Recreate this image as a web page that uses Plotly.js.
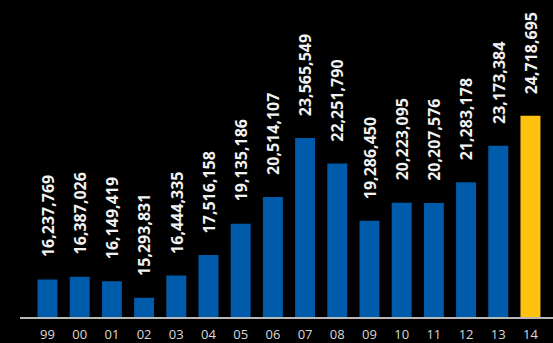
<!DOCTYPE html>
<html>
<head>
<meta charset="utf-8">
<script src="https://cdn.plot.ly/plotly-3.0.1.min.js"></script>
<style>
html,body{margin:0;padding:0;background:#000;}
#chart{width:553px;height:343px;}
</style>
</head>
<body>
<div id="chart"></div>
<script>
var years = ['99','00','01','02','03','04','05','06','07','08','09','10','11','12','13','14'];
var values = [16237769,16387026,16149419,15293831,16444335,17516158,19135186,20514107,23565549,22251790,19286450,20223095,20207576,21283178,23173384,24718695];
var highlightYear = '14';

var blue = '#005BAA';
var gold = '#FFC20E';
var colors = years.map(function(y){ return y === highlightYear ? gold : blue; });

var trace = {
  type: 'bar',
  x: years,
  y: values,
  marker: {color: colors, line: {width: 0}},
  hoverinfo: 'none'
};

var annotations = years.map(function(y, i){
  return {
    x: i, y: values[i], xref: 'x', yref: 'y',
    text: values[i].toLocaleString('en-US'),
    showarrow: false, textangle: -90,
    xanchor: 'center', yanchor: 'bottom', yshift: 20,
    font: {family: 'Open Sans, sans-serif', size: 16, color: '#f2f2f2', weight: 'bold'}
  };
});

var layout = {
  width: 553, height: 343,
  margin: {l: 20, r: 0, t: 0, b: 26, pad: 0},
  paper_bgcolor: '#000', plot_bgcolor: '#000',
  bargap: 0.38,
  showlegend: false,
  xaxis: {
    type: 'category',
    range: [-0.854, 15.70],
    showgrid: false, zeroline: false,
    showline: true, linecolor: '#b8b8b8', linewidth: 1.5,
    ticks: '', layer: 'above traces',
    ticklabelstandoff: 5,
    tickfont: {family: 'Open Sans, sans-serif', size: 13, color: '#d9d9d9'}
  },
  yaxis: {
    range: [14300000, 30720000],
    visible: false, showgrid: false, zeroline: false
  },
  annotations: annotations
};

Plotly.newPlot('chart', [trace], layout, {displayModeBar: false, staticPlot: true});
</script>
</body>
</html>
